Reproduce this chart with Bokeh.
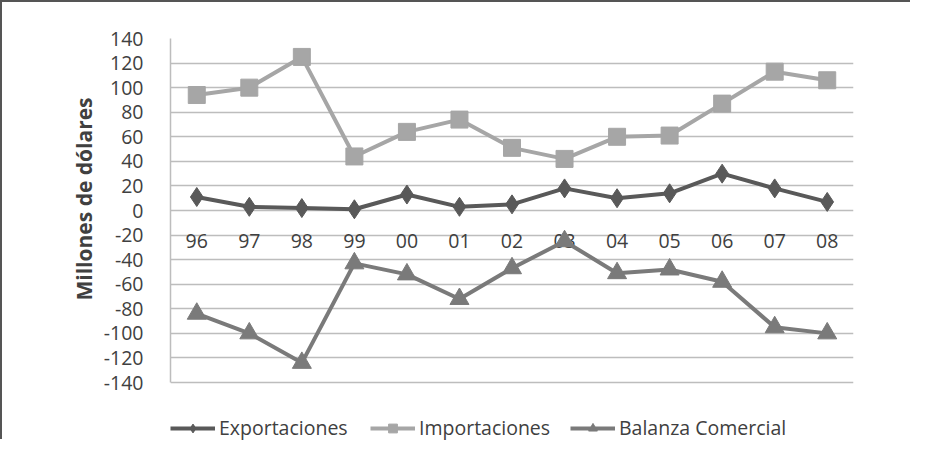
from bokeh.plotting import figure
from bokeh.models import FactorRange, Range1d, Legend, LegendItem, FixedTicker, Title
from bokeh.core.properties import value
from bokeh.embed import file_html
from bokeh.resources import INLINE

years = ["96", "97", "98", "99", "00", "01", "02", "03", "04", "05", "06", "07", "08"]
exportaciones = [11, 3, 2, 1, 13, 3, 5, 18, 10, 14, 30, 18, 7]
importaciones = [94, 100, 125, 44, 64, 74, 51, 42, 60, 61, 87, 113, 106]
balanza = [-84, -100, -124, -43, -52, -72, -47, -25, -51, -48, -58, -95, -100]
y_ticks = list(range(-140, 141, 20))
y_tick_labels = {t: str(t) for t in y_ticks}
axis_base = [0] * len(years)   # category labels sit on the zero line

FONT = "Open Sans"
TXT = "#404040"
C_EXP = "#595959"
C_IMP = "#a6a6a6"
C_BAL = "#7a7a7a"

# frame extends below -140 to leave room for the legend inside it
p = figure(x_range=FactorRange(factors=years), y_range=Range1d(-188, 140),
           width=910, height=439, output_backend="svg", toolbar_location=None,
           min_border_left=168, min_border_right=59, min_border_top=36, min_border_bottom=0)
p.outline_line_color = None
p.styles = {"border-top": "2px solid #555555", "border-left": "2px solid #555555"}

# grid
p.xgrid.visible = False
p.ygrid.ticker = FixedTicker(ticks=y_ticks)
p.ygrid.grid_line_color = "#bdbdbd"
p.ygrid.grid_line_width = 1.5

# y axis
p.yaxis.ticker = FixedTicker(ticks=y_ticks)
p.yaxis.major_label_overrides = y_tick_labels
p.yaxis.bounds = (-140, 140)
p.yaxis.major_tick_line_color = None
p.yaxis.minor_tick_line_color = None
p.yaxis.major_label_text_font = FONT
p.yaxis.major_label_text_font_size = "19.5px"
p.yaxis.major_label_text_color = TXT
p.yaxis.major_label_standoff = 21
p.yaxis.axis_line_color = "#bdbdbd"
p.yaxis.axis_line_width = 1.5

p.add_layout(Title(text="Millones de dólares", align="left", offset=141,
                   text_font=FONT, text_font_size="21px", text_font_style="bold",
                   text_color=TXT, standoff=6), "left")

# x axis: labels drawn on the zero line
p.xaxis.visible = False
p.text(x=years, y=axis_base, text=years, y_offset=30, text_align="center",
       text_baseline="middle", text_font=value(FONT), text_font_size="19.5px",
       text_color=TXT)

# series
l_imp = p.line(years, importaciones, line_color=C_IMP, line_width=4)
m_imp = p.scatter(years, importaciones, marker="square", size=17, fill_color=C_IMP, line_color=C_IMP)
l_exp = p.line(years, exportaciones, line_color=C_EXP, line_width=4)
m_exp = p.scatter(years, exportaciones, marker="diamond", size=19, fill_color=C_EXP, line_color=C_EXP)
l_bal = p.line(years, balanza, line_color=C_BAL, line_width=4)
m_bal = p.scatter(years, balanza, marker="triangle", size=19, fill_color=C_BAL, line_color=C_BAL)

legend = Legend(items=[
    LegendItem(label="Exportaciones", renderers=[l_exp, m_exp]),
    LegendItem(label="Importaciones", renderers=[l_imp, m_imp]),
    LegendItem(label="Balanza Comercial", renderers=[l_bal, m_bal]),
], location="bottom_left", orientation="horizontal", padding=0, margin=0, spacing=0,
    glyph_width=45, glyph_height=22, label_standoff=4, label_width=151,
    border_line_color=None, background_fill_alpha=0,
    label_text_font=FONT, label_text_font_size="19.5px", label_text_color=TXT)
p.add_layout(legend)

open("out.html", "w").write(file_html(p, INLINE))
